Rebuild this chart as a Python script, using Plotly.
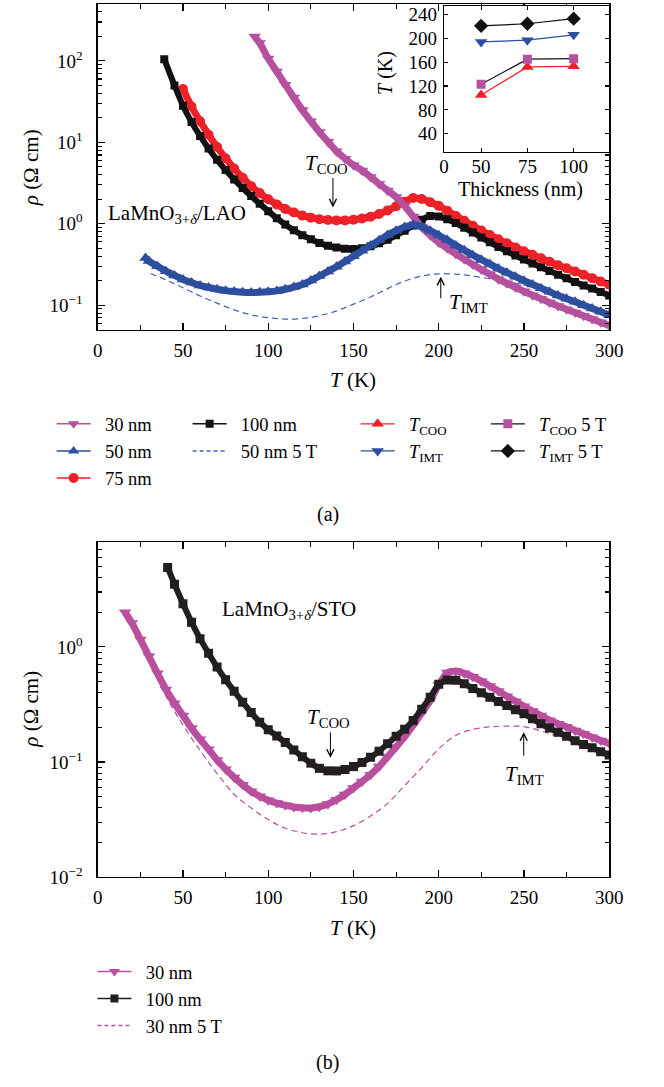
import plotly.graph_objects as go

W, H = 664, 1087
FONT = "Liberation Serif, DejaVu Serif, serif"

# ---------------- Panel (a): LaMnO3+d / LAO ----------------
T30a = [92, 95, 100, 105, 110, 115, 120, 125, 130, 135, 140, 145, 150, 155, 160, 165, 170, 175, 180, 185,
        190, 195, 200, 205, 210, 215, 220, 225, 230, 235, 240, 245, 250, 255, 260, 265, 270, 275, 280, 285,
        290, 295, 300]
R30a = [200, 166, 107, 74, 51, 35.5, 25, 18.2, 13.4, 10.2, 7.76, 6.31, 5.25, 4.52, 3.76, 3.09, 2.57, 2.14, 1.66, 1.23,
        0.912, 0.724, 0.589, 0.501, 0.427, 0.367, 0.316, 0.275, 0.24, 0.209, 0.186, 0.166, 0.148, 0.133, 0.12,
        0.108, 0.0977, 0.0891, 0.0813, 0.0741, 0.0676, 0.0617, 0.0562]

T50a = [28, 30, 35, 40, 45, 50, 55, 60, 65, 70, 75, 80, 85, 90, 95, 100, 105, 110, 115, 120, 125, 130, 135, 140,
        145, 150, 155, 160, 165, 170, 175, 180, 185, 190, 195, 200, 205, 210, 215, 220, 225, 230, 235, 240, 245,
        250, 255, 260, 265, 270, 275, 280, 285, 290, 295, 300]
R50a = [0.38, 0.348, 0.302, 0.262, 0.232, 0.207, 0.19, 0.175, 0.165, 0.157, 0.151, 0.147, 0.144, 0.143, 0.144,
        0.146, 0.150, 0.157, 0.167, 0.18, 0.201, 0.228, 0.26, 0.296, 0.344, 0.40, 0.465, 0.54, 0.627, 0.728, 0.822,
        0.912, 0.973, 0.923, 0.822, 0.724, 0.631, 0.543, 0.473, 0.412, 0.363, 0.32, 0.282, 0.251, 0.224,
        0.2, 0.18, 0.162, 0.146, 0.132, 0.12, 0.11, 0.1, 0.0912, 0.0832, 0.0759]

T75a = [50, 55, 60, 65, 70, 75, 80, 85, 90, 95, 100, 105, 110, 115, 120, 125, 130, 135, 140, 145, 150, 155, 160,
        165, 170, 175, 180, 185, 190, 195, 200, 205, 210, 215, 220, 225, 230, 235, 240, 245, 250, 255, 260, 265,
        270, 275, 280, 285, 290, 295, 300]
R75a = [45.1, 27.5, 18.2, 12.4, 8.77, 6.38, 4.78, 3.67, 2.9, 2.38, 2.0, 1.73, 1.52, 1.38, 1.26, 1.19, 1.14, 1.11,
        1.10, 1.10, 1.12, 1.16, 1.22, 1.32, 1.46, 1.64, 1.87, 2.07, 2.02, 1.84, 1.66, 1.45, 1.25, 1.09, 0.946, 0.828,
        0.728, 0.646, 0.575, 0.513, 0.46, 0.417, 0.378, 0.342, 0.31, 0.284, 0.26, 0.237, 0.215, 0.196, 0.179]

T100a = [39, 45, 50, 55, 60, 65, 70, 75, 80, 85, 90, 95, 100, 105, 110, 115, 120, 125, 130, 135, 140, 145, 150,
         155, 160, 165, 170, 175, 180, 185, 190, 195, 200, 205, 210, 215, 220, 225, 230, 235, 240, 245, 250, 255,
         260, 265, 270, 275, 280, 285, 290, 295, 300]
R100a = [105, 50, 28.2, 17.8, 12, 8.41, 6.1, 4.57, 3.51, 2.75, 2.19, 1.76, 1.43, 1.17, 0.977, 0.832, 0.724, 0.646,
         0.582, 0.537, 0.511, 0.495, 0.491, 0.501, 0.53, 0.575, 0.638, 0.721, 0.822, 0.955, 1.12, 1.245, 1.23, 1.135,
         1.02, 0.895, 0.783, 0.679, 0.592, 0.52, 0.46, 0.407, 0.364, 0.326, 0.293, 0.263, 0.237, 0.214, 0.193, 0.175,
         0.16, 0.145, 0.132]

T50a5T = [31, 40, 50, 60, 70, 80, 90, 100, 110, 120, 130, 140, 150, 160, 170, 180, 190, 200, 210, 220, 230, 240,
          250, 260, 270, 280, 290, 300]
R50a5T = [0.245, 0.204, 0.164, 0.13, 0.106, 0.0877, 0.0762, 0.0702, 0.0675, 0.0687, 0.0741, 0.0853, 0.103, 0.126,
          0.16, 0.198, 0.228, 0.243, 0.241, 0.228, 0.211, 0.195, 0.177, 0.158, 0.136, 0.117, 0.099, 0.0812]

# inset: transition temperatures vs thickness
thick = [50, 75, 100]
Tcoo = [105, 152, 153]
Timt = [194, 197, 206]
Tcoo5T = [123, 165, 166]
Timt5T = [221, 224.5, 233]

# ---------------- Panel (b): LaMnO3+d / STO ----------------
T30b = [16, 20, 25, 30, 35, 40, 45, 50, 55, 60, 65, 70, 75, 80, 85, 90, 95, 100, 105, 110, 115, 120, 125, 130,
        135, 140, 145, 150, 155, 160, 165, 170, 175, 180, 185, 190, 195, 200, 205, 210, 215, 220, 225, 230, 235,
        240, 245, 250, 255, 260, 265, 270, 275, 280, 285, 290, 295, 300]
R30b = [2.0, 1.61, 1.16, 0.828, 0.589, 0.427, 0.324, 0.254, 0.197, 0.158, 0.129, 0.104, 0.0867, 0.0735, 0.0634,
        0.0556, 0.0504, 0.0466, 0.044, 0.0422, 0.0407, 0.04, 0.0398, 0.0409, 0.0432, 0.047, 0.0522, 0.0594, 0.0676,
        0.0776, 0.0912, 0.111, 0.135, 0.166, 0.209, 0.266, 0.341, 0.468, 0.598, 0.618, 0.589, 0.55, 0.504, 0.457,
        0.413, 0.373, 0.337, 0.305, 0.277, 0.253, 0.231, 0.215, 0.202, 0.188, 0.176, 0.164, 0.154, 0.145]

T100b = [41, 45, 50, 55, 60, 65, 70, 75, 80, 85, 90, 95, 100, 105, 110, 115, 120, 125, 130, 135, 140, 145, 150,
         155, 160, 165, 170, 175, 180, 185, 190, 195, 200, 205, 210, 215, 220, 225, 230, 235, 240, 245, 250, 255,
         260, 265, 270, 275, 280, 285, 290, 295, 300]
R100b = [4.9, 3.51, 2.37, 1.64, 1.18, 0.881, 0.668, 0.519, 0.412, 0.331, 0.269, 0.222, 0.191, 0.168, 0.148, 0.127,
         0.111, 0.0977, 0.0881, 0.0838, 0.0836, 0.0861, 0.0912, 0.0989, 0.11, 0.124, 0.144, 0.167, 0.193, 0.229,
         0.288, 0.365, 0.473, 0.516, 0.513, 0.479, 0.435, 0.399, 0.366, 0.336, 0.309, 0.285, 0.263, 0.237, 0.215,
         0.197, 0.181, 0.167, 0.153, 0.142, 0.133, 0.123, 0.115]

T30b5T = [16, 20, 30, 40, 50, 60, 70, 80, 90, 100, 110, 120, 130, 140, 150, 160, 170, 180, 190, 200, 210, 220,
          230, 240, 250, 260, 270, 280, 290, 300]
R30b5T = [1.95, 1.48, 0.759, 0.372, 0.209, 0.126, 0.0794, 0.0525, 0.0398, 0.0316, 0.0266, 0.0243, 0.0236, 0.0248,
          0.028, 0.0339, 0.0437, 0.0624, 0.0891, 0.13, 0.17, 0.192, 0.202, 0.205, 0.203, 0.186, 0.166, 0.148, 0.132,
          0.12]

xticks_T = [0, 50, 100, 150, 200, 250, 300]
yticks_a = [0.1, 1, 10, 100]
ylabels_a = ["10<sup>\u22121</sup>", "10<sup>0</sup>", "10<sup>1</sup>", "10<sup>2</sup>"]
yticks_b = [0.01, 0.1, 1]
ylabels_b = ["10<sup>\u22122</sup>", "10<sup>\u22121</sup>", "10<sup>0</sup>"]
minor_a = [0.06, 0.07, 0.08, 0.09, 0.2, 0.3, 0.4, 0.5, 0.6, 0.7, 0.8, 0.9, 2, 3, 4, 5, 6, 7, 8, 9,
           20, 30, 40, 50, 60, 70, 80, 90, 200, 300, 400]
minor_b = [0.02, 0.03, 0.04, 0.05, 0.06, 0.07, 0.08, 0.09, 0.2, 0.3, 0.4, 0.5, 0.6, 0.7, 0.8, 0.9,
           2, 3, 4, 5, 6, 7, 8]
inset_xticks = [30, 50, 75, 100]
inset_xlabels = ["0", "50", "75", "100"]
inset_yticks = [40, 80, 120, 160, 200, 240]

MAG = "#B5519F"
MAGB = "#B94F9E"
BLU = "#2E4E9F"
BLUD = "#4463B5"
RED = "#EE2128"
BLK = "#111111"
BLKB = "#231F20"

SP = "\u2002"  # gap between legend symbol and text

fig = go.Figure()

# ---- legend-only entries (each entry its own group so the rows can be spaced) ----
def leg(name, color, symbol, legend, group, dash=None, msize=10):
    mode = "lines" if symbol is None else "lines+markers"
    fig.add_trace(go.Scatter(
        x=[None], y=[None], mode=mode, name=SP + name, legendgroup=group, legend=legend,
        line=dict(color=color, width=1.5, dash=dash),
        marker=dict(symbol=symbol or "circle", size=msize, color=color),
        hoverinfo="skip"))

leg("30 nm", MAG, "triangle-down", "legend", "a1")
leg("50 nm", BLU, "triangle-up", "legend", "a2")
leg("75 nm", RED, "circle", "legend", "a3")
leg("100 nm", BLK, "square", "legend3", "a4", msize=8)
leg("50 nm 5 T", BLUD, None, "legend3", "a5", dash="4px,3px")

# inset traces (also give legend columns 3 and 4)
def inset(name, y, lcolor, mcolor, symbol, legend, group, size):
    fig.add_trace(go.Scatter(
        x=thick, y=y, mode="lines+markers", name=SP + name, legendgroup=group, legend=legend,
        line=dict(color=lcolor, width=1.2),
        marker=dict(symbol=symbol, size=size, color=mcolor),
        xaxis="x3", yaxis="y3", hoverinfo="skip"))

inset("<i>T</i><sub>COO</sub>", Tcoo, RED, RED, "triangle-up", "legend4", "a6", 11)
inset("<i>T</i><sub>IMT</sub>", Timt, BLU, BLU, "triangle-down", "legend4", "a7", 11)
inset("<i>T</i><sub>COO</sub> 5 T", Tcoo5T, BLK, MAG, "square", "legend5", "a8", 9)
inset("<i>T</i><sub>IMT</sub> 5 T", Timt5T, BLK, BLK, "diamond", "legend5", "a9", 11)

leg("30 nm", MAGB, "triangle-down", "legend2", "b1")
leg("100 nm", BLKB, "square", "legend2", "b2", msize=8)
leg("30 nm 5 T", MAGB, None, "legend2", "b3", dash="4px,3px")

# ---- data traces ----
def band(x, y, color, symbol, size, xa, ya, lw):
    fig.add_trace(go.Scatter(
        x=x, y=y, mode="lines+markers", showlegend=False,
        line=dict(color=color, width=lw, shape="spline", smoothing=0.6),
        marker=dict(symbol=symbol, size=size, color=color, line=dict(width=0)),
        xaxis=xa, yaxis=ya, hoverinfo="skip"))

def dashed(x, y, color, xa, ya):
    fig.add_trace(go.Scatter(
        x=x, y=y, mode="lines", showlegend=False,
        line=dict(color=color, width=1.2, dash="6px,4px", shape="spline", smoothing=1.0),
        xaxis=xa, yaxis=ya, hoverinfo="skip"))

dashed(T50a5T, R50a5T, BLUD, "x", "y")
band(T75a, R75a, RED, "circle", 10, "x", "y", 7)
band(T100a, R100a, BLK, "square", 8, "x", "y", 6)
band(T30a, R30a, MAG, "triangle-down", 11, "x", "y", 7)
band(T50a, R50a, BLU, "triangle-up", 11, "x", "y", 7)

dashed(T30b5T, R30b5T, MAGB, "x2", "y2")
band(T30b, R30b, MAGB, "triangle-down", 11, "x2", "y2", 7)
band(T100b, R100b, BLKB, "square", 9, "x2", "y2", 6)

# ---- axes (positions given in page pixels, converted to paper fractions) ----
def px(xp):
    return xp / W

def py(yp):
    return 1 - yp / H

tickfont = dict(family=FONT, size=19, color="black")
axis_common = dict(showline=True, linecolor="black", linewidth=1.3, mirror="ticks", ticks="inside",
                   tickcolor="black", tickwidth=1.1, showgrid=False, zeroline=False, tickfont=tickfont)

xdom = [px(95.5), px(622)]
fig.update_layout(
    xaxis=dict(domain=xdom, range=[0, 300], tickvals=xticks_T, ticklen=7, anchor="y",
               minor=dict(dtick=25, tick0=0, ticks="inside", ticklen=5, tickcolor="black", showgrid=False),
               ticklabelstandoff=3, **axis_common),
    yaxis=dict(domain=[py(331.7), py(2)], type="log", range=[-1.301, 2.699], tickvals=yticks_a,
               ticktext=ylabels_a, ticklen=7, anchor="x",
               minor=dict(tickvals=minor_a, ticks="inside", ticklen=4, tickcolor="black", showgrid=False),
               ticklabelstandoff=10, **axis_common),
    xaxis2=dict(domain=xdom, range=[0, 300], tickvals=xticks_T, ticklen=7, anchor="y2",
                minor=dict(dtick=25, tick0=0, ticks="inside", ticklen=5, tickcolor="black", showgrid=False),
                ticklabelstandoff=3, **axis_common),
    yaxis2=dict(domain=[py(885.7), py(546.7)], type="log", range=[-2, 0.91], tickvals=yticks_b,
                ticktext=ylabels_b, ticklen=7, anchor="x2",
                minor=dict(tickvals=minor_b, ticks="inside", ticklen=4, tickcolor="black", showgrid=False),
                ticklabelstandoff=10, **axis_common),
    xaxis3=dict(domain=[px(452), px(622)], range=[30, 119.2], tickvals=inset_xticks, ticktext=inset_xlabels,
                ticklen=4, anchor="y3", ticklabelstandoff=-3, **axis_common),
    yaxis3=dict(domain=[py(151.7), py(4)], range=[9.5, 254.4], tickvals=inset_yticks, ticklen=4,
                anchor="x3", ticklabelstandoff=2, **axis_common),
)

# ---- text annotations ----
ann = []
def text(s, x, y, size=21, xanchor="center", yanchor="middle", angle=0):
    ann.append(dict(text=s, x=px(x), y=py(y), xref="paper", yref="paper", showarrow=False,
                    xanchor=xanchor, yanchor=yanchor, textangle=angle,
                    font=dict(family=FONT, size=size, color="black")))

def arrow(xt, yt, xtail, ytail):
    ann.append(dict(text="", x=px(xt), y=py(yt), xref="paper", yref="paper", showarrow=True,
                    ax=xtail - xt, ay=ytail - yt, axref="pixel", ayref="pixel",
                    arrowhead=5, arrowsize=1.4, arrowwidth=1, arrowcolor="black", standoff=0))

text("<i>\u03c1</i> (\u03a9 cm)", 27, 168, angle=-90)
text("<i>T</i> (K)", 358, 383)
text("<i>\u03c1</i> (\u03a9 cm)", 27, 716, angle=-90)
text("<i>T</i> (K)", 358, 937)
text("Thickness (nm)", 531, 190, size=20)
text("<i>T</i> (K)", 391, 72, size=20, angle=-90)

text("LaMnO<sub>3+<i>\u03b4</i></sub>/LAO", 104, 215, xanchor="left")
text("<i>T</i><sub>COO</sub>", 331, 164)
arrow(337.6, 208, 337.6, 177)
text("<i>T</i><sub>IMT</sub>", 455, 305, xanchor="left")
arrow(448.6, 278, 448.6, 301)

text("LaMnO<sub>3+<i>\u03b4</i></sub>/STO", 221, 615, xanchor="left")
text("<i>T</i><sub>COO</sub>", 333, 725)
arrow(335, 765, 335, 738)
text("<i>T</i><sub>IMT</sub>", 535, 782)
arrow(534, 739, 534, 764)

text("(a)", 332, 519, size=20)
text("(b)", 332, 1073, size=20)

lf = dict(family=FONT, size=18.5, color="black")
common_leg = dict(orientation="v", traceorder="grouped", xanchor="left", yanchor="top",
                  itemwidth=34, bgcolor="rgba(0,0,0,0)", tracegroupgap=0, font=lf)
ya_top = py(408.2)
fig.update_layout(
    width=W, height=H, margin=dict(l=0, r=0, t=0, b=0), autosize=False,
    plot_bgcolor="white", paper_bgcolor="white", annotations=ann,
    legend=dict(x=px(48), y=ya_top, **common_leg),
    legend3=dict(x=px(188), y=ya_top, **common_leg),
    legend4=dict(x=px(361), y=ya_top, **common_leg),
    legend5=dict(x=px(495), y=ya_top, **common_leg),
    legend2=dict(x=px(90), y=py(962.5), **common_leg),
)

fig.write_html("out.html", config={"displayModeBar": False, "staticPlot": True},
               post_script="document.body.style.margin='0px';document.body.style.overflow='hidden';")
